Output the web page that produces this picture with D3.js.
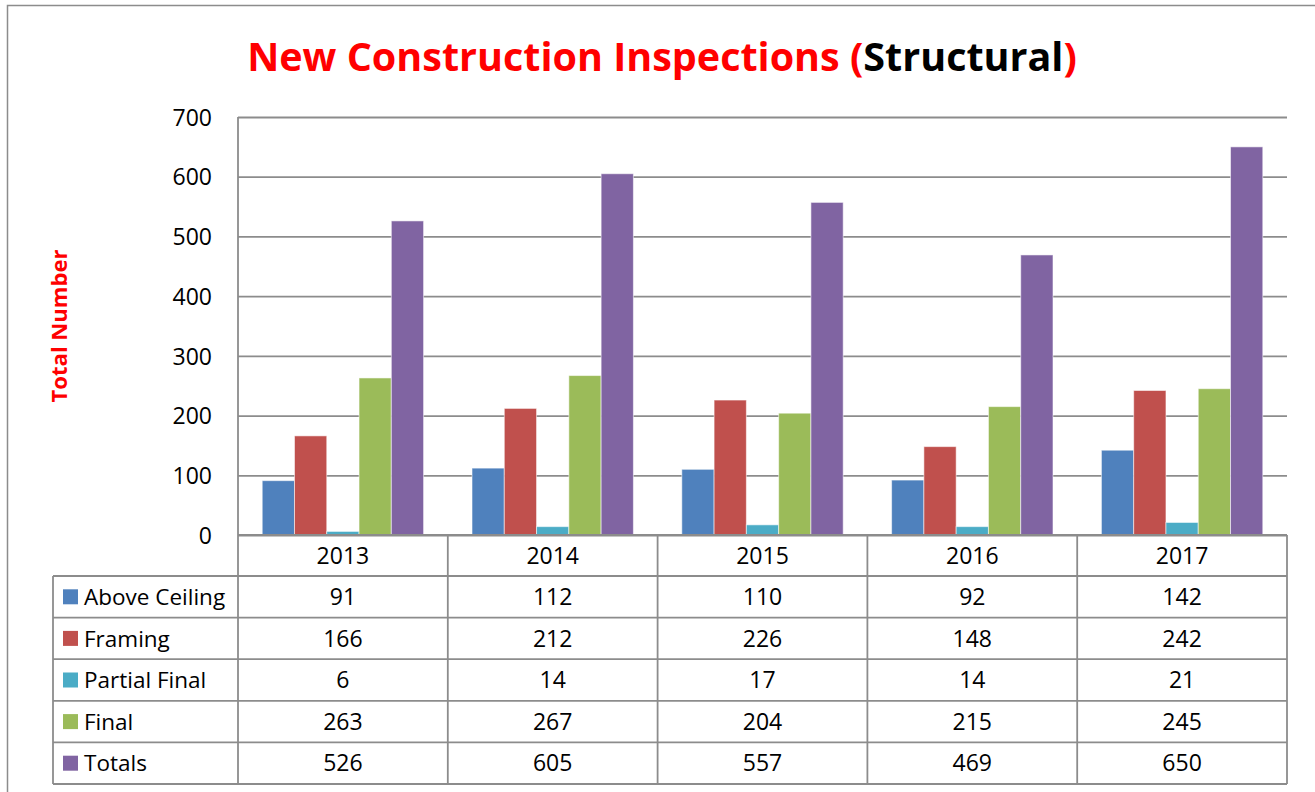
<!DOCTYPE html>
<html>
<head>
<meta charset="utf-8">
<script src="https://cdn.jsdelivr.net/npm/d3@7"></script>
<style>
  body { margin: 0; background: #fff; }
  svg { display: block; font-family: "Open Sans", sans-serif; }
</style>
</head>
<body>
<script>

const years = ["2013", "2014", "2015", "2016", "2017"];
const seriesNames = ["Above Ceiling", "Framing", "Partial Final", "Final", "Totals"];
const aboveCeiling = [91, 112, 110, 92, 142];
const framing = [166, 212, 226, 148, 242];
const partialFinal = [6, 14, 17, 14, 21];
const finalInsp = [263, 267, 204, 215, 245];
const totals = [526, 605, 557, 469, 650];
const colors = ["#4F81BD", "#C0504D", "#4BACC6", "#9BBB59", "#8064A2"];
const yTicks = [0, 100, 200, 300, 400, 500, 600, 700];

const values = [aboveCeiling, framing, partialFinal, finalInsp, totals];

const W = 1315, H = 792;
const grey = "#8c8c8c";

const svg = d3.select("body")
    .append("svg")
    .attr("width", W)
    .attr("height", H);

// outer chart frame (runs off the right/bottom of the shot)
svg.append("rect")
    .attr("x", 7.5).attr("y", 5.5)
    .attr("width", W + 20).attr("height", H + 20)
    .attr("fill", "none")
    .attr("stroke", grey)
    .attr("stroke-width", 1.5);

const plotLeft = 238, plotRight = 1287, plotTop = 117, plotBottom = 535;
const tableLeft = 53, headerBottom = 576, tableBottom = 784;

const x0 = d3.scaleBand().domain(years).range([plotLeft, plotRight]);
const x1 = d3.scaleBand().domain(seriesNames)
    .range([0, x0.bandwidth()])
    .paddingInner(0).paddingOuter(0.75);
const y = d3.scaleLinear().domain([0, 700]).range([plotBottom, plotTop]);
const rowY = d3.scaleBand().domain(seriesNames).range([headerBottom, tableBottom]);

// gridlines + y labels
const yAxis = svg.append("g")
    .attr("transform", `translate(${plotLeft},0)`)
    .call(d3.axisLeft(y).tickValues(yTicks).tickSize(-(plotRight - plotLeft)).tickPadding(26))
    .attr("font-family", null)
    .attr("font-size", null);
yAxis.select(".domain").remove();
yAxis.selectAll(".tick line")
    .attr("stroke", grey)
    .attr("stroke-width", 1.8);
yAxis.selectAll(".tick text")
    .attr("fill", "#000")
    .style("font-size", "23px")
    .attr("dy", "0.36em");

// bars
const groups = svg.append("g").selectAll("g")
    .data(years)
    .enter()
    .append("g")
    .attr("transform", d => `translate(${x0(d)},0)`);

groups.selectAll("rect")
    .data((d, i) => seriesNames.map((s, j) => ({ s: s, v: values[j][i], c: colors[j] })))
    .enter()
    .append("rect")
    .attr("x", d => x1(d.s))
    .attr("y", d => y(d.v))
    .attr("width", x1.bandwidth())
    .attr("height", d => y(0) - y(d.v))
    .attr("fill", d => d.c)
    .attr("stroke", "rgba(255,255,255,0.55)")
    .attr("stroke-width", 1);

// data table lines
const lines = svg.append("g")
    .attr("stroke", grey)
    .attr("stroke-width", 1.8)
    .attr("fill", "none");

lines.append("line")
    .attr("x1", plotLeft).attr("x2", plotRight)
    .attr("y1", plotBottom).attr("y2", plotBottom);
lines.append("line")
    .attr("x1", tableLeft).attr("x2", plotRight)
    .attr("y1", headerBottom).attr("y2", headerBottom);
lines.selectAll(".rowline")
    .data(seriesNames)
    .enter()
    .append("line")
    .attr("x1", tableLeft).attr("x2", plotRight)
    .attr("y1", d => rowY(d) + rowY.bandwidth())
    .attr("y2", d => rowY(d) + rowY.bandwidth());
lines.append("line")
    .attr("x1", tableLeft).attr("x2", tableLeft)
    .attr("y1", headerBottom).attr("y2", tableBottom);
lines.append("line")
    .attr("x1", plotLeft).attr("x2", plotLeft)
    .attr("y1", plotTop).attr("y2", tableBottom);
lines.selectAll(".colline")
    .data(years)
    .enter()
    .append("line")
    .attr("x1", d => x0(d) + x0.bandwidth())
    .attr("x2", d => x0(d) + x0.bandwidth())
    .attr("y1", plotBottom).attr("y2", tableBottom);

// header row (years)
svg.append("g").selectAll("text")
    .data(years)
    .enter()
    .append("text")
    .attr("x", d => x0(d) + x0.bandwidth() / 2)
    .attr("y", (plotBottom + headerBottom) / 2)
    .attr("dy", "0.36em")
    .attr("text-anchor", "middle")
    .style("font-size", "23px")
    .text(d => d);

// legend keys + row labels
const rows = svg.append("g").selectAll("g")
    .data(seriesNames)
    .enter()
    .append("g")
    .attr("transform", d => `translate(0,${rowY(d) + rowY.bandwidth() / 2})`);

rows.append("rect")
    .attr("x", 63).attr("y", -7.5)
    .attr("width", 15).attr("height", 15)
    .attr("fill", (d, i) => colors[i]);

rows.append("text")
    .attr("x", 84)
    .attr("dy", "0.36em")
    .style("font-size", "22.5px")
    .text(d => d);

rows.each(function (s, j) {
    d3.select(this).selectAll(".val")
        .data(years)
        .enter()
        .append("text")
        .attr("x", d => x0(d) + x0.bandwidth() / 2)
        .attr("dy", "0.36em")
        .attr("text-anchor", "middle")
        .style("font-size", "23px")
        .text((d, i) => values[j][i]);
});

// title
const title = svg.append("text")
    .attr("x", 662)
    .attr("y", 71)
    .attr("text-anchor", "middle")
    .style("font-weight", "bold")
    .style("font-size", "40px")
    .attr("fill", "#FF0000");
title.append("tspan").text("New Construction Inspections (");
title.append("tspan").attr("fill", "#000").text("Structural");
title.append("tspan").text(")");

// fit title width to the reference
const tw = title.node().getComputedTextLength();
title.style("font-size", `${40 * 830 / tw}px`);

// y axis title
const yTitle = svg.append("text")
    .attr("transform", "translate(67,326) rotate(-90)")
    .attr("text-anchor", "middle")
    .style("font-weight", "bold")
    .style("font-size", "20px")
    .attr("fill", "#FF0000")
    .text("Total Number");
const yw = yTitle.node().getComputedTextLength();
yTitle.style("font-size", `${20 * 153 / yw}px`);

</script>
</body>
</html>
